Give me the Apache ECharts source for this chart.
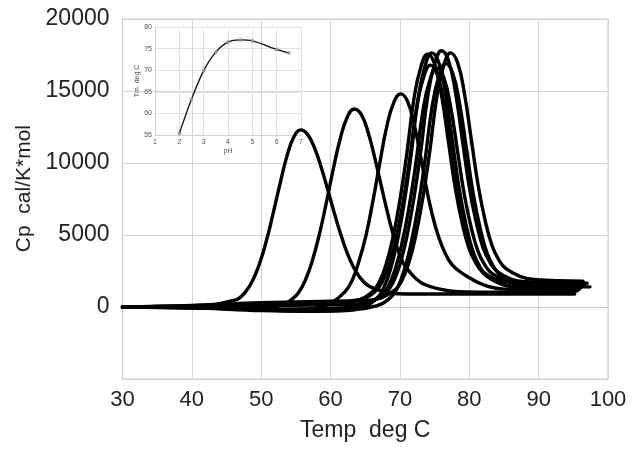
<!DOCTYPE html>
<html>
<head>
<meta charset="utf-8">
<script src="https://cdn.jsdelivr.net/npm/echarts@6/dist/echarts.min.js"></script>
<style>
html,body{margin:0;padding:0;background:#fff;}
#chart{width:635px;height:449px;}
</style>
</head>
<body>
<div id="chart"></div>
<script>
// Main DSC scans: [Temp deg C, Cp cal/K*mol]
const scan1 = [[30,0],[35,30],[40,80],[42,150],[43.7,210],[45.7,420],[46.7,575],[47.7,1030],[48.7,1770],[49.7,2930],[50.7,4510],[51.7,6460],[52.7,8540],[53.7,10460],[54.7,11805],[55.7,12300],[56.7,11970],[57.7,11030],[58.7,9620],[59.7,7965],[60.7,6260],[61.7,4700],[62.7,3390],[63.7,2420],[64.7,1785],[65.7,1410],[67.7,1085],[69.7,920],[75,900],[85,900],[95.2,900]];
const scan2 = [[30,0],[40,-50],[48,-120],[51.4,-40],[53.4,230],[54.4,530],[55.4,1010],[56.4,1910],[57.4,3270],[58.4,5080],[59.4,7270],[60.4,9600],[61.4,11700],[62.4,13180],[63.4,13750],[64.4,13390],[65.4,12150],[66.4,10300],[67.4,8220],[68.4,6180],[69.4,4420],[70.4,3130],[71.4,2440],[72.4,1930],[73.4,1600],[75.4,1280],[78.4,1060],[85,1020],[95.5,1100]];
const scan3 = [[30,0],[45,-100],[55,-250],[58.1,-50],[60.1,290],[62.1,1070],[63.1,1840],[64.1,3190],[65.1,4960],[66.1,7340],[67.1,10010],[68.1,12530],[69.1,14180],[70.1,14800],[71.1,14280],[72.1,12580],[73.1,10160],[74.1,7590],[75.1,5610],[76.1,4190],[77.1,3210],[78.1,2660],[80.1,2010],[82.1,1530],[85.1,1240],[90,1180],[96,1300]];
const scan4 = [[30,0],[40,50],[50,150],[60,250],[64,480],[66,1050],[67,1707],[68,2950],[69,4850],[70,7430],[71,10665],[72,14400],[73,16640],[74,17550],[75,16880],[76,14700],[77,11450],[78,8190],[79,5770],[80,4010],[81,3010],[82,2420],[84,1880],[86,1720],[96.2,1750]];
const scan5 = [[30,0],[40,-20],[50,-200],[58,-300],[62,-250],[64.6,-40],[66.6,570],[67.6,1260],[68.6,2550],[69.6,4520],[70.6,7180],[71.6,10530],[72.6,14390],[73.6,16700],[74.6,17650],[75.6,16970],[76.6,14740],[77.6,11400],[78.6,8050],[79.6,5570],[80.6,3770],[81.6,2740],[82.6,2140],[84.6,1590],[86.6,1420],[90,1380],[97.4,1400]];
const scan6 = [[30,0],[40,80],[50,250],[60,350],[64.4,530],[66.4,1070],[67.4,1690],[68.4,2865],[69.4,4680],[70.4,7140],[71.4,10230],[72.4,13810],[73.4,15940],[74.4,16800],[75.4,16140],[76.4,14040],[77.4,10910],[78.4,7770],[79.4,5435],[80.4,3740],[81.4,2760],[82.4,2180],[84.4,1640],[86.4,1410],[90,1280],[95.8,1200]];
const scan7 = [[30,0],[40,-30],[50,-150],[60,-100],[63,0],[65.3,230],[67.3,760],[68.3,1405],[69.3,2600],[70.3,4430],[71.3,6900],[72.3,10000],[73.3,13570],[74.3,15720],[75.3,16600],[76.3,15970],[77.3,13920],[78.3,10840],[79.3,7760],[80.3,5470],[81.3,3810],[82.3,2870],[83.3,2320],[85.3,1820],[87.3,1640],[90,1580],[96.6,1550]];
const scan8 = [[30,0],[40,30],[50,100],[60,150],[64,200],[66,440],[68,1010],[69,1680],[70,2950],[71,4890],[72,7500],[73,10800],[74,14600],[75,16870],[76,17800],[77,17120],[78,14920],[79,11620],[80,8320],[81,5870],[82,4090],[83,3075],[84,2480],[86,1940],[88,1750],[97,1650]];
const scan9 = [[30,0],[40,-50],[50,-250],[57,-300],[63,-200],[66.6,80],[68.6,635],[69.6,1290],[70.6,2520],[71.6,4400],[72.6,6930],[73.6,10120],[74.6,13790],[75.6,16000],[76.6,16900],[77.6,16250],[78.6,14130],[79.6,10950],[80.6,7770],[81.6,5405],[82.6,3690],[83.6,2720],[84.6,2150],[86.6,1610],[88.6,1410],[96,1350]];
const scan10 = [[30,0],[40,100],[50,300],[60,400],[65,430],[67.3,640],[69.3,1195],[70.3,1855],[71.3,3095],[72.3,5000],[73.3,7560],[74.3,10790],[75.3,14510],[76.3,16740],[77.3,17650],[78.3,16990],[79.3,14830],[80.3,11600],[81.3,8380],[82.3,5975],[83.3,4235],[84.3,3240],[85.3,2660],[87.3,2130],[89.3,1920],[96.4,1800]];

// Inset: Tm vs pH
const insetPH = [2, 2.5, 3, 3.5, 4, 4.5, 5, 6, 6.5];
const insetTm = [55.4, 63.3, 69.9, 74.2, 76.5, 77.0, 76.8, 74.8, 74.0];

// Axis titles
const xTitle = 'Temp  deg C';
const yTitle = 'Cp  cal/K*mol';
const insetXTitle = 'pH';
const insetYTitle = 'Tm  deg C';

const scans = [scan1, scan2, scan3, scan4, scan5, scan6, scan7, scan8, scan9, scan10];

const FONT = 'Liberation Sans, Arial, sans-serif';
const chart = echarts.init(document.getElementById('chart'), null, {renderer: 'canvas'});

const mainSeries = scans.map(function (s) {
  return {
    type: 'line', xAxisIndex: 0, yAxisIndex: 0, data: s,
    showSymbol: false, symbol: 'none', smooth: 0.45,
    lineStyle: {color: '#000', width: 3.4, cap: 'round', join: 'round'},
    silent: true, z: 3
  };
});

const option = {
  animation: false,
  backgroundColor: '#fff',
  grid: [
    {left: 122.5, right: 27, top: 19, bottom: 70, show: true, borderColor: '#c8c8c8', borderWidth: 1, backgroundColor: 'transparent'},
    {left: 155, top: 27, width: 146, height: 108, show: false}
  ],
  graphic: [{
    type: 'text', left: 14, top: 125,
    style: {text: yTitle, fontFamily: FONT, fontSize: 21, fill: '#222'},
    rotation: Math.PI / 2, originX: 0, originY: 0,
    silent: true
  }],
  xAxis: [
    {
      type: 'value', gridIndex: 0, min: 30, max: 100, interval: 10,
      name: xTitle, nameLocation: 'middle', nameGap: 40,
      nameTextStyle: {fontFamily: FONT, fontSize: 23, color: '#222'},
      axisLine: {show: true, lineStyle: {color: '#c8c8c8'}},
      axisTick: {show: false},
      axisLabel: {fontFamily: FONT, fontSize: 22, color: '#222', margin: 10},
      splitLine: {show: true, lineStyle: {color: '#d6d6d6', width: 1}}
    },
    {
      type: 'value', gridIndex: 1, min: 1, max: 7, interval: 1,
      name: insetXTitle, nameLocation: 'middle', nameGap: 13,
      nameTextStyle: {fontFamily: FONT, fontSize: 7, color: '#555'},
      axisLine: {show: true, lineStyle: {color: '#d0d0d0'}},
      axisTick: {show: false},
      axisLabel: {fontFamily: FONT, fontSize: 7, color: '#555', margin: 4},
      splitLine: {show: true, lineStyle: {color: '#e2e2e2', width: 1}}
    }
  ],
  yAxis: [
    {
      type: 'value', gridIndex: 0, min: -5000, max: 20000, interval: 5000,
      axisLine: {show: true, lineStyle: {color: '#c8c8c8'}},
      axisTick: {show: false},
      axisLabel: {fontFamily: FONT, fontSize: 23, color: '#222', margin: 13,
        formatter: function (v) { return v < 0 ? '' : String(v); }},
      splitLine: {show: true, lineStyle: {color: '#d6d6d6', width: 1}}
    },
    {
      type: 'value', gridIndex: 1, min: 55, max: 80, interval: 5,
      name: insetYTitle, nameLocation: 'middle', nameGap: 14,
      nameTextStyle: {fontFamily: FONT, fontSize: 7, color: '#555'},
      axisLine: {show: true, lineStyle: {color: '#d0d0d0'}},
      axisTick: {show: false},
      axisLabel: {fontFamily: FONT, fontSize: 7, color: '#555', margin: 3},
      splitLine: {show: true, lineStyle: {color: '#e2e2e2', width: 1}}
    }
  ],
  series: mainSeries.concat([{
    type: 'line', xAxisIndex: 1, yAxisIndex: 1,
    data: insetPH.map(function (p, i) { return [p, insetTm[i]]; }),
    smooth: 0.3, symbol: 'circle', symbolSize: 3, showSymbol: true,
    itemStyle: {color: '#999', borderColor: '#777', borderWidth: 0.5},
    lineStyle: {color: '#111', width: 1.3},
    silent: true, z: 4
  }])
};
chart.setOption(option);
</script>
</body>
</html>
